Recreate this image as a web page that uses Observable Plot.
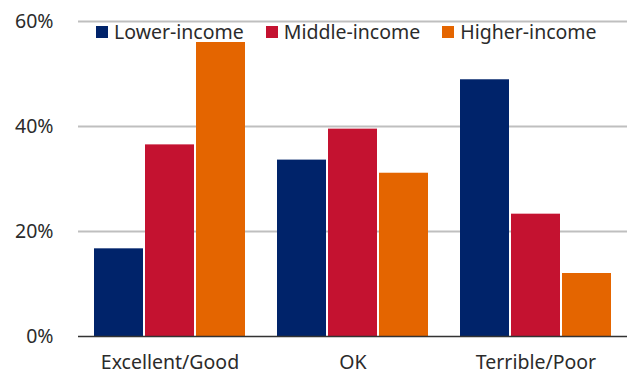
<!DOCTYPE html>
<html>
<head>
<meta charset="utf-8">
<script src="https://cdn.jsdelivr.net/npm/d3@7"></script>
<script src="https://cdn.jsdelivr.net/npm/@observablehq/plot@0.6"></script>
<style>
  html, body { margin: 0; padding: 0; background: #fff; }
  #wrap { position: relative; width: 627px; height: 376px; font-family: "Noto Sans", sans-serif; }
  #wrap svg { position: absolute; left: 0; top: 0; }
  #legend { position: absolute; top: 18px; left: 96px; display: flex; font-size: 19.5px; color: #2b2b2b; white-space: nowrap; z-index: 5; }
  .item { display: flex; align-items: center; margin-right: 22px; }
  .sw { width: 12px; height: 12px; margin-right: 6px; }
</style>
</head>
<body>
<div id="wrap"><div id="legend"></div></div>
<script>
const categories = ["Excellent/Good", "OK", "Terrible/Poor"];
const series = ["Lower-income", "Middle-income", "Higher-income"];
const colors = ["#00236A", "#C41230", "#E46500"];
const lowerIncome = [16.7, 33.6, 48.9];
const middleIncome = [36.5, 39.5, 23.3];
const higherIncome = [56.0, 31.1, 12.0];
const yTicks = [0, 20, 40, 60];

const values = [lowerIncome, middleIncome, higherIncome];
const data = [];
categories.forEach((c, i) => series.forEach((s, j) => data.push({category: c, series: s, value: values[j][i]})));

const common = {
  width: 627,
  height: 376,
  marginLeft: 78,
  marginRight: 0,
  marginTop: 21,
  marginBottom: 40,
  style: {fontFamily: "Noto Sans, sans-serif", fontSize: "19.5px", color: "#2b2b2b", background: "transparent"}
};
const yScale = {domain: [0, 60], ticks: yTicks, tickFormat: d => d + "%", label: null, tickSize: 0, tickPadding: 25};

// layer 1: gridlines + y axis
const base = Plot.plot({
  ...common,
  y: yScale,
  marks: [
    Plot.ruleY(yTicks.slice(1), {stroke: "#BFBFBF", strokeWidth: 2})
  ]
});

// layer 2: grouped bars + category axis
const bars = Plot.plot({
  ...common,
  fx: {domain: categories, paddingInner: 0.152, paddingOuter: 0.076, label: null, axis: "bottom", tickSize: 0, tickPadding: 19},
  x: {domain: series, padding: 0.03, axis: null},
  y: {...yScale, axis: null},
  color: {domain: series, range: colors},
  marks: [
    Plot.barY(data, {fx: "category", x: "series", y: "value", fill: "series"})
  ]
});

// layer 3: baseline
const baseline = Plot.plot({
  ...common,
  y: {...yScale, axis: null},
  marks: [
    Plot.ruleY([0], {stroke: "#333333", strokeWidth: 1.5})
  ]
});

const wrap = document.getElementById("wrap");
[base, bars, baseline].forEach(s => wrap.appendChild(s));

const legend = document.getElementById("legend");
series.forEach((s, j) => {
  const it = document.createElement("div");
  it.className = "item";
  it.innerHTML = `<span class="sw" style="background:${colors[j]}"></span><span>${s}</span>`;
  legend.appendChild(it);
});
</script>
</body>
</html>
